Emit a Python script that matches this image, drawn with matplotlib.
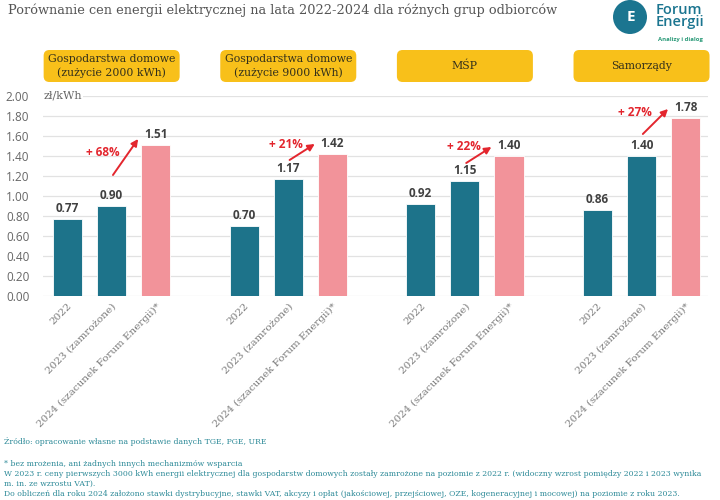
import matplotlib
matplotlib.use('Agg')
import matplotlib.pyplot as plt
from matplotlib.patches import FancyBboxPatch, Ellipse

# --- data -------------------------------------------------------------
groups = ['Gospodarstwa domowe\n(zużycie 2000 kWh)',
          'Gospodarstwa domowe\n(zużycie 9000 kWh)',
          'MŚP',
          'Samorządy']
periods = ['2022', '2023 (zamrożone)', '2024 (szacunek Forum Energii)*']
prices = [
    [0.77, 0.90, 1.51],
    [0.70, 1.17, 1.42],
    [0.92, 1.15, 1.40],
    [0.86, 1.40, 1.78],
]
increase = ['+ 68%', '+ 21%', '+ 22%', '+ 27%']
yticks = [0.0, 0.2, 0.4, 0.6, 0.8, 1.0, 1.2, 1.4, 1.6, 1.8, 2.0]

title = 'Porównanie cen energii elektrycznej na lata 2022-2024 dla różnych grup odbiorców'
footer = [
    'Źródło: opracowanie własne na podstawie danych TGE, PGE, URE',
    '',
    '* bez mrożenia, ani żadnych innych mechanizmów wsparcia',
    'W 2023 r. ceny pierwszych 3000 kWh energii elektrycznej dla gospodarstw domowych zostały zamrożone na poziomie z 2022 r. (widoczny wzrost pomiędzy 2022 i 2023 wynika',
    'm. in. ze wzrostu VAT).',
    'Do obliczeń dla roku 2024 założono stawki dystrybucyjne, stawki VAT, akcyzy i opłat (jakościowej, przejściowej, OZE, kogeneracyjnej i mocowej) na poziomie z roku 2023.',
]

# --- style / layout ---------------------------------------------------
TEAL = '#1d738a'
PINK = '#f2939a'
YELLOW = '#f8c01a'
RED = '#e3262e'
GREY = '#666666'
SERIF = 'DejaVu Serif'
SANS = 'Open Sans'

# arrow layout per group: (start dy below 2024 top, end dy above 2024 top,
#                           label dx, label dy)
arrow_layout = [(0.30, 0.06, 0.80, -0.08),
                (0.06, 0.10, 0.94, 0.09),
                (0.07, 0.09, 0.97, 0.10),
                (0.16, 0.09, 0.86, 0.05)]

fig = plt.figure(figsize=(7.2, 5.0), dpi=100)
ax = fig.add_axes([0.060, 0.408, 0.923, 0.400])

xs, hs, cols, labels = [], [], [], []
for g, vals in enumerate(prices):
    for i, v in enumerate(vals):
        xs.append(g * 4 + i)
        hs.append(v)
        cols.append(PINK if i == 2 else TEAL)
        labels.append(periods[i])

ax.bar(xs, hs, width=0.66, color=cols, edgecolor='white', linewidth=0.6, zorder=3)
for x, h in zip(xs, hs):
    ax.annotate(f'{h:.2f}', (x, h), xytext=(0, 3), textcoords='offset points',
                ha='center', va='bottom', fontsize=8.5, fontweight='bold',
                color='#404040', family=SANS, zorder=4)

# arrows with percentage increase 2023 -> 2024
for g, vals in enumerate(prices):
    x0 = g * 4
    top = vals[2]
    s_dy, e_dy, l_dx, l_dy = arrow_layout[g]
    ax.annotate('', xy=(x0 + 1.6, top + e_dy), xytext=(x0 + 1.03, top - s_dy),
                arrowprops=dict(arrowstyle='-|>', color=RED, lw=1.4,
                                mutation_scale=10, shrinkA=0, shrinkB=0),
                zorder=5)
    ax.text(x0 + l_dx, top + l_dy, increase[g], ha='center', va='center',
            fontsize=8.5, fontweight='bold', color=RED, family=SANS, zorder=5)

ax.set_xlim(-0.55, 14.5)
ax.set_ylim(0, 2.0)
ax.set_yticks(yticks)
ax.set_yticklabels([f'{t:.2f}' for t in yticks], family=SANS, fontsize=8.5, color=GREY)
ax.set_xticks(xs)
ax.set_xticklabels(labels, rotation=45, ha='right', rotation_mode='anchor',
                   family=SERIF, fontsize=7.5, color='#7a7a7a')
ax.tick_params(axis='both', length=0)
ax.tick_params(axis='y', pad=10)
ax.tick_params(axis='x', pad=4)
ax.grid(axis='y', color='#e2e2e2', linewidth=0.9, zorder=0)
for s in ax.spines.values():
    s.set_visible(False)

ax.text(-0.55, 2.0, 'zł/kWh', ha='left', va='center', fontsize=8, color=GREY,
        family=SERIF, zorder=4,
        bbox=dict(boxstyle='square,pad=0.15', fc='white', ec='none'))

# yellow header boxes above every group
fig.canvas.draw()
box_w_px = 136
for g, name in enumerate(groups):
    cx_px = ax.transData.transform((g * 4 + 1, 0))[0]
    x0_fig = (cx_px - box_w_px / 2) / 720
    box = FancyBboxPatch((x0_fig, 1 - 82 / 500), box_w_px / 720, 32 / 500,
                         boxstyle='round,pad=0,rounding_size=0.008',
                         transform=fig.transFigure, fc=YELLOW, ec='none',
                         mutation_aspect=720 / 500)
    fig.patches.append(box)
    fig.text(cx_px / 720, 1 - 66 / 500, name, ha='center', va='center',
             fontsize=7.8, color='#33301a', family=SERIF, linespacing=1.35)

# title
fig.text(8 / 720, 1 - 10 / 500, title, ha='left', va='center', fontsize=9.3,
         color='#555555', family=SERIF)

# logo
logo = Ellipse((630 / 720, 1 - 17 / 500), 34 / 720, 34 / 500,
               transform=fig.transFigure, fc='#1b7590', ec='none')
fig.patches.append(logo)
fig.text(631 / 720, 1 - 17 / 500, 'E', ha='center', va='center', fontsize=11,
         fontweight='bold', color='white', family=SANS)
fig.text(656 / 720, 1 - 16 / 500, 'Forum\nEnergii', ha='left', va='center',
         fontsize=10.5, color='#1b7590', family=SANS, fontweight='semibold',
         linespacing=0.9)
fig.text(680 / 720, 1 - 39 / 500, 'Analizy i dialog', ha='center', va='center',
         fontsize=4.3, fontweight='bold', color='#2a9a78', family=SANS)

# footer notes
y_px = 441
for line in footer:
    if line:
        fig.text(4 / 720, 1 - y_px / 500, line, ha='left', va='center',
                 fontsize=5.6, color='#2d8a98', family=SERIF)
    y_px += 12.5 if not line else 10

fig.savefig('out.png', dpi=100)
